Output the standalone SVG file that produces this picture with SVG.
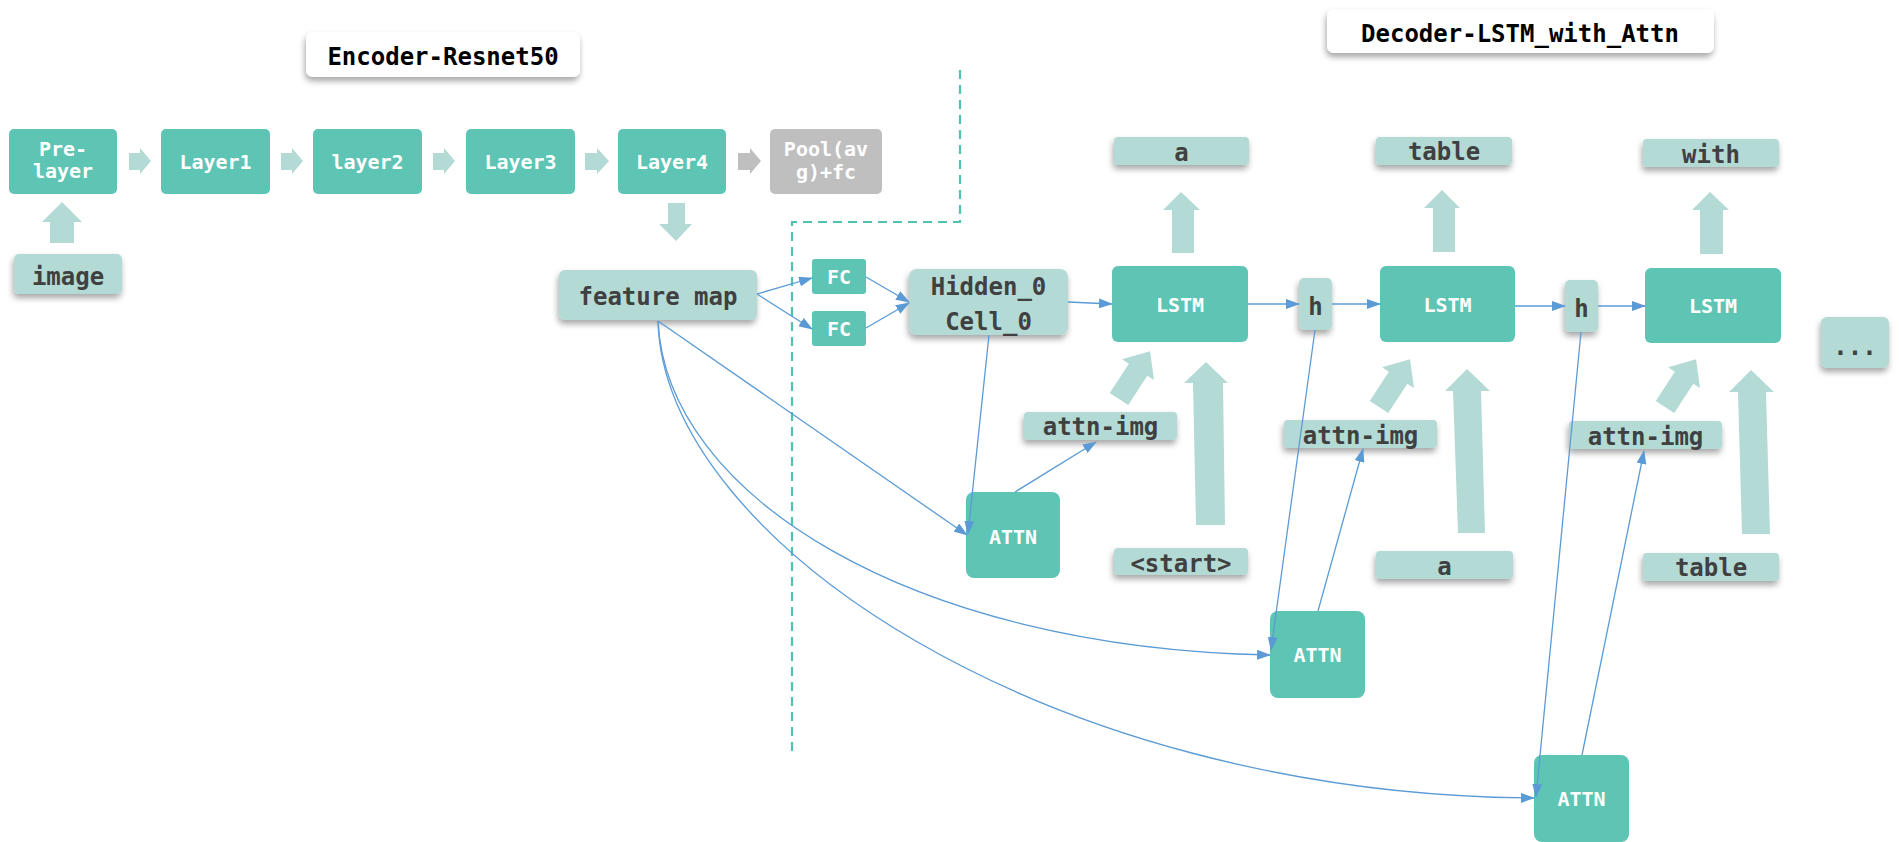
<svg xmlns="http://www.w3.org/2000/svg" width="1899" height="842" viewBox="0 0 1899 842">
<defs>
<filter id="sh" x="-30%" y="-30%" width="160%" height="180%"><feDropShadow dx="-1" dy="4" stdDeviation="3" flood-color="#000" flood-opacity="0.35"/></filter>
<marker id="ah" markerUnits="userSpaceOnUse" markerWidth="14" markerHeight="10" refX="13" refY="5" orient="auto"><path d="M0,0 L14,5 L0,10 z" fill="#5b9bd5"/></marker>
</defs>
<style>
.teal{fill:#5ec4b4}
.light{fill:#b3dad5;filter:url(#sh)}
.gray{fill:#bfbfbf}
.title{fill:#fff;filter:url(#sh)}
.blk{fill:#b3dad5}
.wt{font-family:"DejaVu Sans Mono","Liberation Mono",monospace;font-weight:bold;font-size:20px;fill:#fff;text-anchor:middle}
.dt{font-family:"DejaVu Sans Mono","Liberation Mono",monospace;font-weight:bold;font-size:24px;fill:#404040;text-anchor:middle}
.tt{font-family:"DejaVu Sans Mono","Liberation Mono",monospace;font-weight:bold;font-size:24px;fill:#000;text-anchor:middle}
.ln{fill:none;stroke:#5b9bd5;stroke-width:1.3;marker-end:url(#ah)}
.dash{fill:none;stroke:#4fc3b1;stroke-width:2.2;stroke-dasharray:9,6}
</style>
<g id="titles">
<g id="enc-title"><rect class="title" x="306" y="32" width="274" height="45" rx="7"/><text class="tt" x="443" y="65">Encoder-Resnet50</text></g>
<g id="dec-title"><rect class="title" x="1327" y="9" width="387" height="44" rx="7"/><text class="tt" x="1520" y="42">Decoder-LSTM_with_Attn</text></g>
</g>
<g id="divider"><path class="dash" d="M960,70 V222 H792 V757"/></g>
<g id="block-arrows">
<polygon class="blk" points="129,153 140,153 140,148 151,161 140,174 140,170 129,170"/>
<polygon class="blk" points="281,153 292,153 292,148 303,161 292,174 292,170 281,170"/>
<polygon class="blk" points="433,153 444,153 444,148 455,161 444,174 444,170 433,170"/>
<polygon class="blk" points="585,153 597,153 597,148 609,161 597,174 597,170 585,170"/>
<polygon class="gray" points="738,153 750,153 750,148 761,161 750,174 750,170 738,170"/>
<polygon class="blk" points="50,243 50,222 42,222 62,202 82,222 74,222 74,243"/>
<polygon class="blk" points="668,203 685,203 685,224 692,224 676,241 659,224 668,224"/>
<polygon class="blk" points="1172,253 1172,210 1163,210 1181,192 1200,210 1194,210 1194,253"/>
<polygon class="blk" points="1433,252 1433,208 1424,208 1442,190 1460,208 1455,208 1455,252"/>
<polygon class="blk" points="1700,254 1700,210 1692,210 1710,192 1729,210 1723,210 1723,254"/>
<polygon class="blk" points="1196,525 1193,383 1184,383 1206,362 1228,383 1223,383 1225,525"/>
<polygon class="blk" points="1458,533 1453,391 1445,391 1467,369 1490,391 1481,391 1485,533"/>
<polygon class="blk" points="1742,534 1738,392 1729,392 1751,370 1774,392 1766,392 1770,534"/>
<polygon class="blk" transform="translate(1119,399) rotate(33)" points="-11,0 11,0 11,-35 19,-35 0,-57 -19,-35 -11,-35"/>
<polygon class="blk" transform="translate(1379,407) rotate(33)" points="-11,0 11,0 11,-35 19,-35 0,-57 -19,-35 -11,-35"/>
<polygon class="blk" transform="translate(1665,407) rotate(33)" points="-11,0 11,0 11,-35 19,-35 0,-57 -19,-35 -11,-35"/>
</g>
<g id="prelayer"><rect class="teal" x="9" y="129" width="108" height="65" rx="5"/><text class="wt" x="63" y="156">Pre-</text><text class="wt" x="63" y="178">layer</text></g>
<g id="layer1"><rect class="teal" x="161" y="129" width="109" height="65" rx="5"/><text class="wt" x="215.5" y="169">Layer1</text></g>
<g id="layer2"><rect class="teal" x="313" y="129" width="109" height="65" rx="5"/><text class="wt" x="367.5" y="169">layer2</text></g>
<g id="layer3"><rect class="teal" x="466" y="129" width="109" height="65" rx="5"/><text class="wt" x="520.5" y="169">Layer3</text></g>
<g id="layer4"><rect class="teal" x="618" y="129" width="108" height="65" rx="5"/><text class="wt" x="672" y="169">Layer4</text></g>
<g id="pool"><rect class="gray" x="770" y="129" width="112" height="65" rx="5"/><text class="wt" x="826" y="156">Pool(av</text><text class="wt" x="826" y="179">g)+fc</text></g>
<g id="image"><rect class="light" x="14" y="254" width="108" height="40" rx="5"/><text class="dt" x="68" y="285">image</text></g>
<g id="featmap"><rect class="light" x="559" y="270" width="198" height="50" rx="6"/><text class="dt" x="658" y="305">feature map</text></g>
<g id="fc1"><rect class="teal" x="812" y="259" width="54" height="35" rx="3"/><text class="wt" x="839" y="284">FC</text></g>
<g id="fc2"><rect class="teal" x="812" y="311" width="54" height="35" rx="3"/><text class="wt" x="839" y="336">FC</text></g>
<g id="hidden"><rect class="light" x="909" y="269" width="159" height="66" rx="8"/><text class="dt" x="988.5" y="295">Hidden_0</text><text class="dt" x="988.5" y="330">Cell_0</text></g>
<g id="lstm1"><rect class="teal" x="1112" y="266" width="136" height="76" rx="6"/><text class="wt" x="1180" y="312">LSTM</text></g>
<g id="lstm2"><rect class="teal" x="1380" y="266" width="135" height="76" rx="6"/><text class="wt" x="1447.5" y="312">LSTM</text></g>
<g id="lstm3"><rect class="teal" x="1645" y="268" width="136" height="75" rx="6"/><text class="wt" x="1713" y="313">LSTM</text></g>
<g id="h1"><rect class="light" x="1299" y="278" width="33" height="52" rx="5"/><text class="dt" x="1315.5" y="315">h</text></g>
<g id="h2"><rect class="light" x="1565" y="280" width="33" height="52" rx="5"/><text class="dt" x="1581.5" y="317">h</text></g>
<g id="more"><rect class="light" x="1821" y="317" width="68" height="51" rx="6"/><text class="dt" x="1855" y="355">...</text></g>
<g id="out-a"><rect class="light" x="1114" y="137" width="135" height="28" rx="4"/><text class="dt" x="1181.5" y="161">a</text></g>
<g id="out-table"><rect class="light" x="1376" y="137" width="136" height="28" rx="4"/><text class="dt" x="1444" y="160">table</text></g>
<g id="out-with"><rect class="light" x="1643" y="139" width="136" height="28" rx="4"/><text class="dt" x="1711" y="163">with</text></g>
<g id="attnimg1"><rect class="light" x="1024" y="412" width="153" height="28" rx="4"/><text class="dt" x="1100.5" y="435">attn-img</text></g>
<g id="attnimg2"><rect class="light" x="1284" y="420" width="153" height="28" rx="4"/><text class="dt" x="1360.5" y="444">attn-img</text></g>
<g id="attnimg3"><rect class="light" x="1569" y="421" width="153" height="28" rx="4"/><text class="dt" x="1645.5" y="445">attn-img</text></g>
<g id="in-start"><rect class="light" x="1114" y="548" width="134" height="27" rx="4"/><text class="dt" x="1181" y="572">&lt;start&gt;</text></g>
<g id="in-a"><rect class="light" x="1376" y="551" width="137" height="28" rx="4"/><text class="dt" x="1444.5" y="575">a</text></g>
<g id="in-table"><rect class="light" x="1643" y="553" width="136" height="28" rx="4"/><text class="dt" x="1711" y="576">table</text></g>
<g id="attn1"><rect class="teal" x="966" y="492" width="94" height="86" rx="8"/><text class="wt" x="1013" y="544">ATTN</text></g>
<g id="attn2"><rect class="teal" x="1270" y="611" width="95" height="87" rx="8"/><text class="wt" x="1317.5" y="662">ATTN</text></g>
<g id="attn3"><rect class="teal" x="1534" y="755" width="95" height="87" rx="8"/><text class="wt" x="1581.5" y="806">ATTN</text></g>
<g id="connectors">
<line class="ln" x1="757" y1="294" x2="812" y2="278"/>
<line class="ln" x1="757" y1="294" x2="812" y2="329"/>
<line class="ln" x1="866" y1="277" x2="909" y2="302"/>
<line class="ln" x1="866" y1="328" x2="909" y2="303"/>
<line class="ln" x1="1068" y1="302" x2="1112" y2="304"/>
<line class="ln" x1="1248" y1="304" x2="1299" y2="304"/>
<line class="ln" x1="1332" y1="304" x2="1380" y2="304"/>
<line class="ln" x1="1515" y1="306" x2="1565" y2="306"/>
<line class="ln" x1="1598" y1="306" x2="1645" y2="306"/>
<line class="ln" x1="989" y1="335" x2="968" y2="534"/>
<line class="ln" x1="658" y1="321" x2="967" y2="535"/>
<line class="ln" x1="1015" y1="492" x2="1096" y2="442"/>
<line class="ln" x1="1315" y1="330" x2="1271" y2="650"/>
<line class="ln" x1="1318" y1="611" x2="1363" y2="449"/>
<line class="ln" x1="1581" y1="332" x2="1536" y2="797"/>
<line class="ln" x1="1582" y1="755" x2="1644" y2="451"/>
<path class="ln" d="M658,321 C666,495 910,648 1270,655"/>
<path class="ln" d="M658,321 C664,540 1045,795 1534,798"/>
</g>
</svg>
